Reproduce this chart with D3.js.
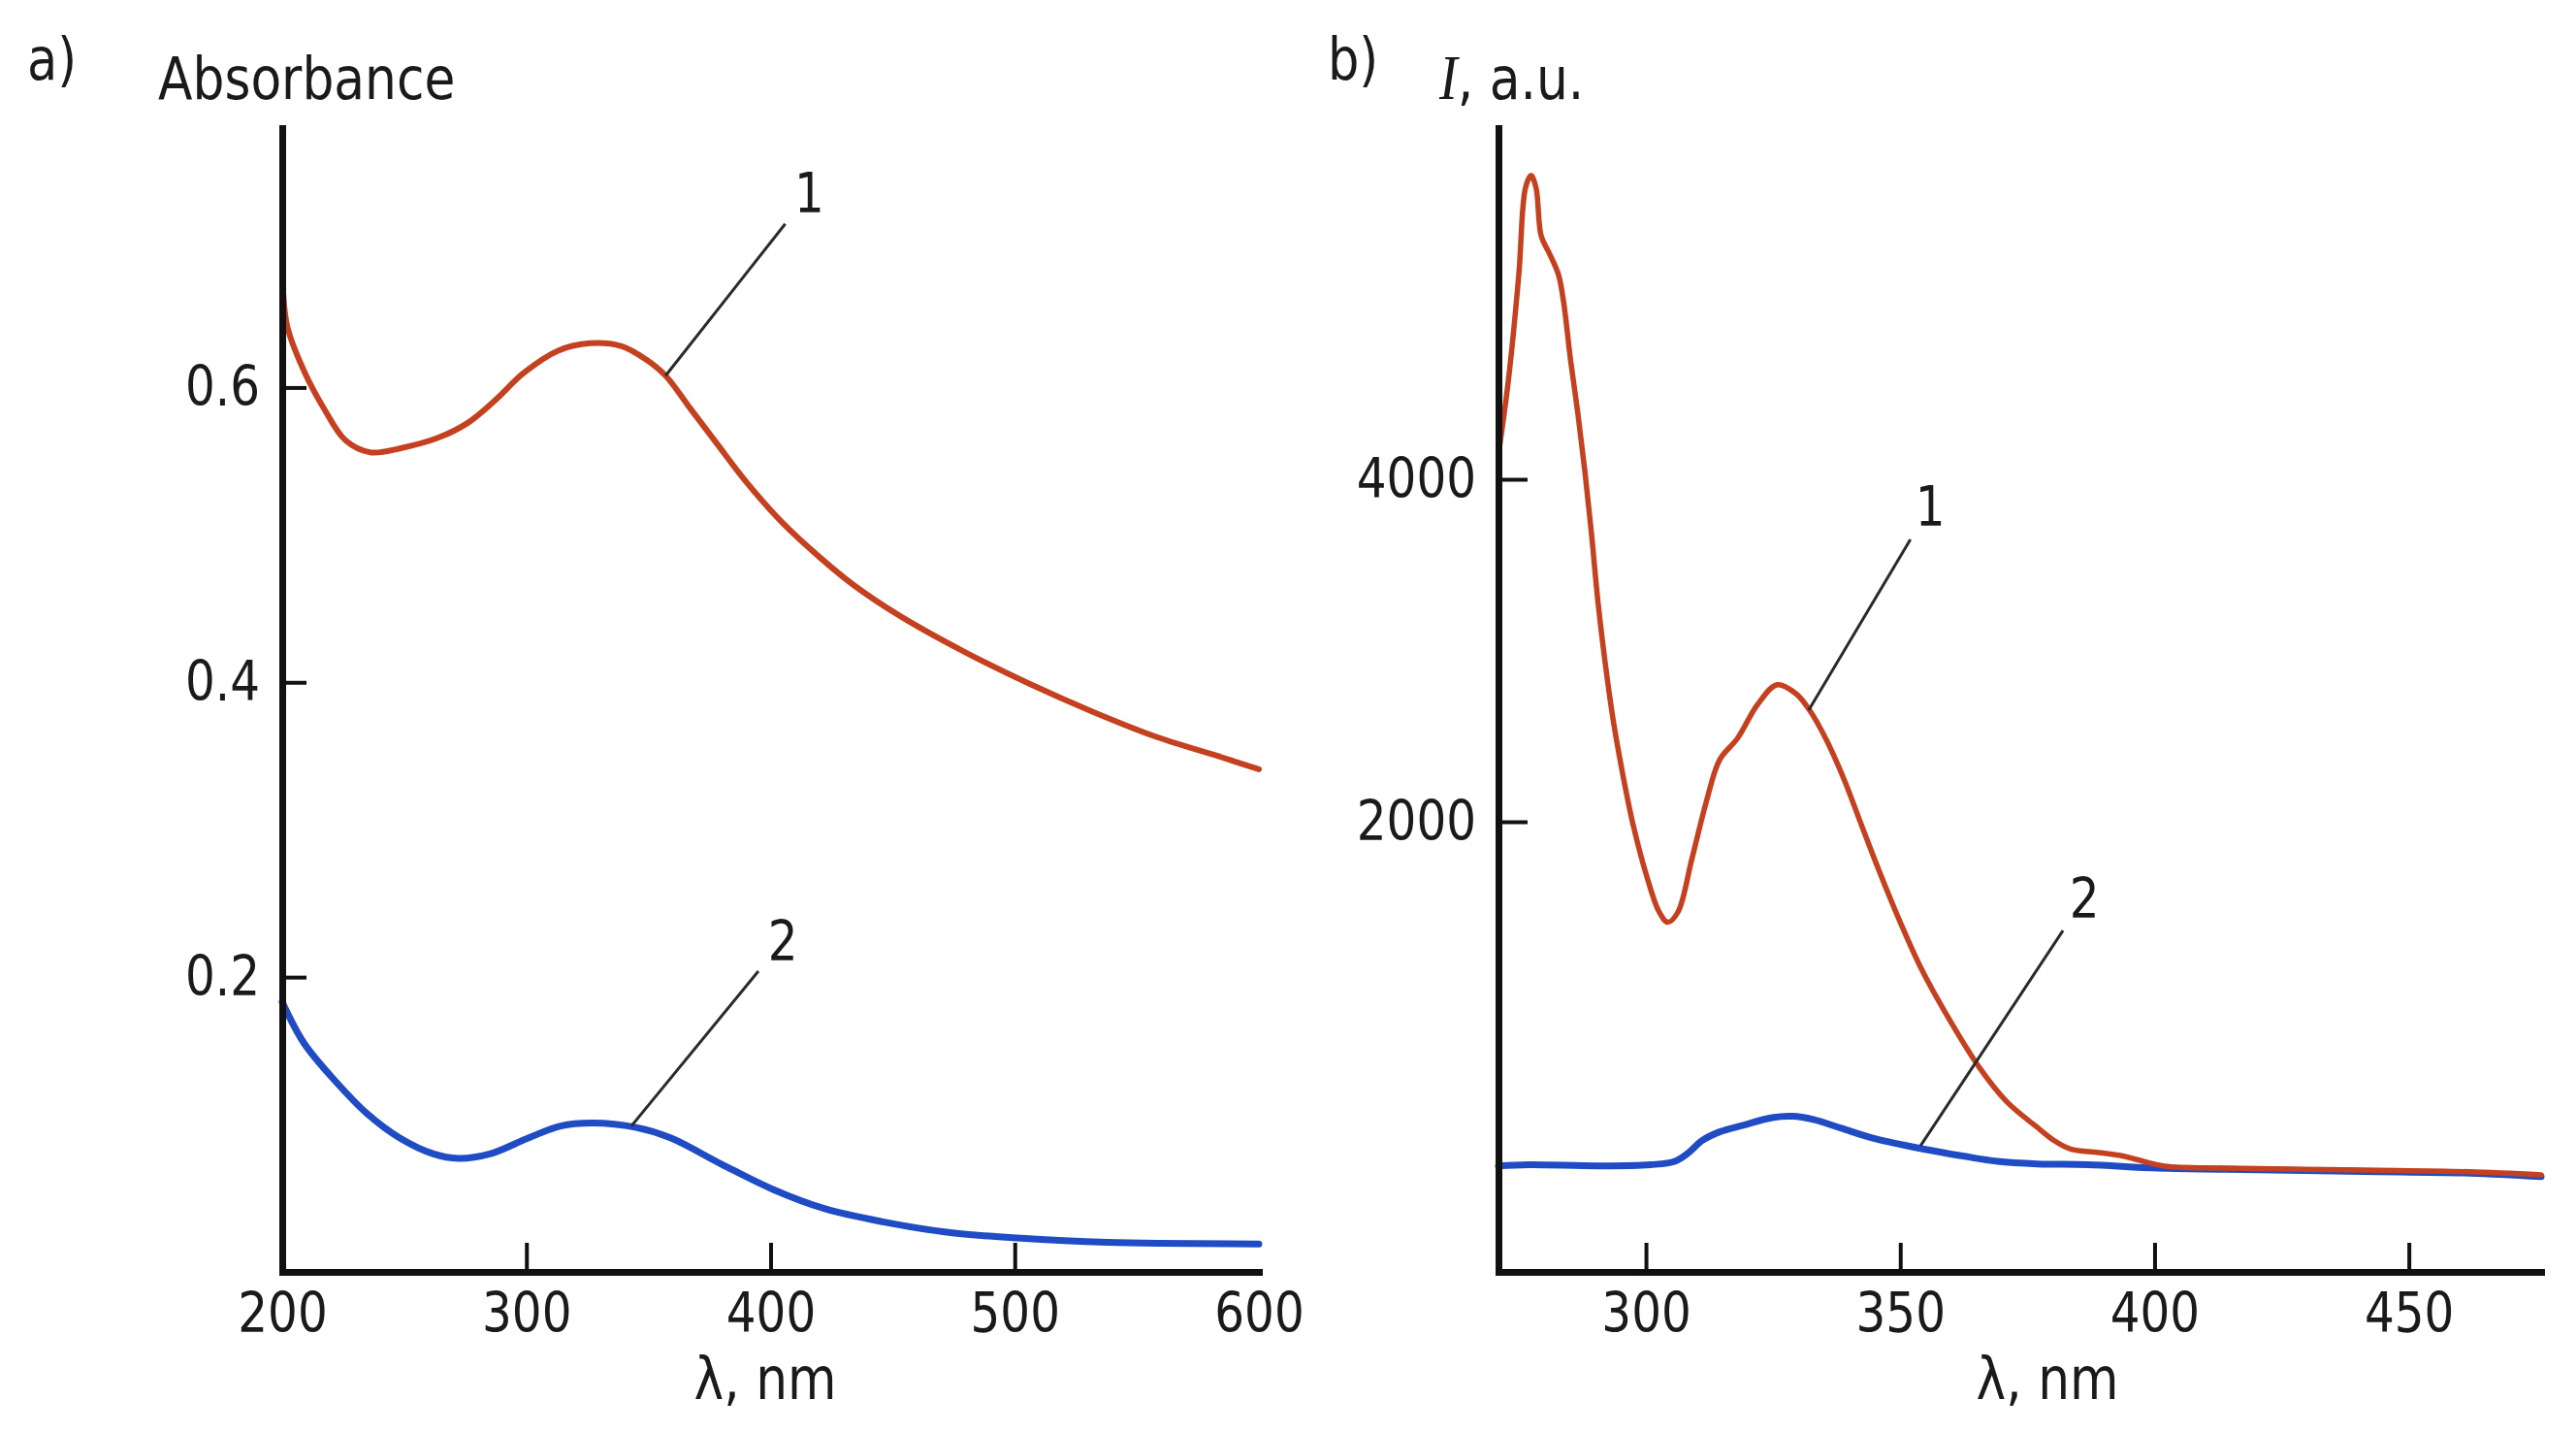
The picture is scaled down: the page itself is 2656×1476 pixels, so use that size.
<!DOCTYPE html>
<html>
<head>
<meta charset="utf-8">
<script src="https://cdn.jsdelivr.net/npm/d3@7/dist/d3.min.js"></script>
<style>
  body { margin: 0; background: #fff; }
  text { font-family: "DejaVu Sans", sans-serif; fill: #1a1a1a; }
</style>
</head>
<body>
<svg id="chart" width="2656" height="1476"></svg>
<script>
// a) absorbance spectra
const absWave1 = [200, 202, 209, 217, 226, 236, 249, 264, 276, 287, 299, 313, 326, 339, 349, 357, 367, 378, 390, 405, 420, 434, 453, 479, 506, 532, 558, 585, 600];
const absVal1 = [0.682, 0.642, 0.611, 0.586, 0.564, 0.556, 0.559, 0.566, 0.576, 0.591, 0.610, 0.625, 0.630, 0.628, 0.619, 0.608, 0.586, 0.562, 0.536, 0.508, 0.485, 0.466, 0.445, 0.421, 0.399, 0.380, 0.363, 0.349, 0.341];
const absWave2 = [200, 209, 222, 235, 248, 262, 272, 285, 301, 314, 327, 345, 359, 380, 401, 422, 446, 472, 501, 538, 600];
const absVal2 = [0.183, 0.155, 0.129, 0.107, 0.091, 0.080, 0.077, 0.080, 0.091, 0.099, 0.101, 0.098, 0.091, 0.073, 0.056, 0.043, 0.034, 0.027, 0.023, 0.020, 0.019];
const absTicksX = [200, 300, 400, 500, 600];
const absTicksY = [0.2, 0.4, 0.6];

// b) emission spectra
const plWave1 = [271, 273, 275, 276.3, 277.4, 278.4, 279.4, 281, 282.8, 283.8, 285.2, 286.6, 288, 289.3, 290.6, 292.4, 293.6, 295.4, 297.5, 300.2, 302.6, 304.3, 306.3, 309, 311.9, 314.5, 318, 322, 325.8, 329.5, 332.3, 335.7, 339, 342.4, 345.8, 350, 354, 358.8, 365.6, 371, 376.7, 380.2, 383.5, 389, 393.7, 397.8, 402, 414, 441.4, 461.8, 476];
const plVal1 = [4144, 4590, 5195, 5700, 5775, 5700, 5420, 5320, 5195, 5037, 4690, 4387, 4045, 3680, 3275, 2833, 2586, 2283, 1979, 1677, 1473, 1413, 1473, 1779, 2121, 2362, 2487, 2687, 2800, 2748, 2646, 2465, 2244, 1979, 1717, 1413, 1150, 889, 563, 363, 221, 139, 88, 68, 48, 17, -11, -23, -34, -44, -62];
const plWave2 = [271, 277, 290.6, 300.9, 305.7, 308.4, 311.1, 314.5, 319.3, 324.8, 328.8, 332.9, 338.4, 345.2, 354.7, 362.3, 369.1, 377, 386.9, 400.6, 414, 441, 462, 476];
const plVal2 = [-10, -3, -10, -3, 17, 68, 139, 189, 229, 272, 280, 261, 210, 148, 88, 48, 17, 2, -3, -23, -30, -42, -52, -72];
const plTicksX = [300, 350, 400, 450];
const plTicksY = [2000, 4000];

// curve labels: [wavelength on curve, value on curve, wavelength at line end, value at line end, text]
const absNotes = [[357, 0.608, 406, 0.711, '1'], [343, 0.099, 395, 0.204, '2']];
const plNotes = [[332, 2652, 352, 3649, '1'], [354, 108, 382, 1365, '2']];

const RED = '#c5401f';
const BLUE = '#1f4cc4';
const SX = 0.85; // the original type is narrower than DejaVu

const svg = d3.select('#chart');

function label(x, y, str, size, anchor) {
  return svg.append('text')
    .attr('transform', `translate(${x},${y}) scale(${SX},1)`)
    .attr('font-size', size)
    .attr('text-anchor', anchor || 'start')
    .text(str);
}

function styleAxis(g, fontSize) {
  g.attr('font-family', null).attr('font-size', null);
  g.select('.domain').attr('stroke', '#111').attr('stroke-width', 7).attr('stroke-linecap', 'square');
  g.selectAll('.tick line').attr('stroke', '#111').attr('stroke-width', 4);
  g.selectAll('.tick text')
    .attr('font-size', fontSize)
    .attr('fill', '#1a1a1a')
    .attr('transform', `scale(${SX},1)`);
}

function panel(opts) {
  const x = d3.scaleLinear().domain(opts.xDomain).range(opts.xRange);
  const y = d3.scaleLinear().domain(opts.yDomain).range([1311, 132]);

  const line = d3.line()
    .x(d => x(d[0]))
    .y(d => y(d[1]))
    .curve(d3.curveCatmullRom.alpha(0.5));

  opts.series.forEach(s => {
    svg.append('path')
      .datum(s.wave.map((w, i) => [w, s.val[i]]))
      .attr('fill', 'none')
      .attr('stroke', s.color)
      .attr('stroke-width', s.width)
      .attr('stroke-linejoin', 'round')
      .attr('stroke-linecap', 'round')
      .attr('d', line);
  });

  const gx = svg.append('g')
    .attr('transform', `translate(0,${y.range()[0]})`)
    .call(d3.axisBottom(x).tickValues(opts.xTicks).tickSize(-30).tickSizeOuter(0).tickPadding(22).tickFormat(d3.format('d')));
  styleAxis(gx, 57);
  gx.selectAll('.tick').filter(d => d === opts.xDomain[0] || d === opts.xDomain[1]).select('line').remove();

  const gy = svg.append('g')
    .attr('transform', `translate(${x.range()[0]},0)`)
    .call(d3.axisLeft(y).tickValues(opts.yTicks).tickSize(-opts.yTickLen).tickSizeOuter(0).tickPadding(27).tickFormat(opts.yFormat));
  styleAxis(gy, 57);

  opts.notes.forEach(n => {
    svg.append('line')
      .attr('x1', x(n[0])).attr('y1', y(n[1]))
      .attr('x2', x(n[2])).attr('y2', y(n[3]))
      .attr('stroke', '#2a2a2a')
      .attr('stroke-width', 3);
    const dx = x(n[2]) - x(n[0]), dy = y(n[3]) - y(n[1]);
    const len = Math.hypot(dx, dy);
    label(x(n[2]) + dx / len * 40, y(n[3]) + dy / len * 40 + 20, n[4], 57, 'middle');
  });

  return x;
}

panel({
  xDomain: [200, 600], xRange: [291, 1298],
  yDomain: [0, 0.776],
  xTicks: absTicksX, yTicks: absTicksY, yTickLen: 25,
  yFormat: d3.format('.1f'),
  series: [
    { wave: absWave1, val: absVal1, color: RED, width: 6 },
    { wave: absWave2, val: absVal2, color: BLUE, width: 7 }
  ],
  notes: absNotes
});

panel({
  xDomain: [271, 476], xRange: [1545, 2620],
  yDomain: [-629, 6051],
  xTicks: plTicksX, yTicks: plTicksY, yTickLen: 30,
  yFormat: d3.format('d'),
  series: [
    { wave: plWave2, val: plVal2, color: BLUE, width: 7 },
    { wave: plWave1, val: plVal1, color: RED, width: 5.5 }
  ],
  notes: plNotes
});

// titles
label(28, 82, 'a)', 60);
label(163, 102, 'Absorbance', 61);
label(789, 1442, 'λ, nm', 61, 'middle');

label(1369, 82, 'b)', 60);
const yb = label(1484, 102, '', 61);
yb.append('tspan').attr('font-family', '"Liberation Serif", serif').attr('font-style', 'italic').attr('font-size', 66).text('I');
yb.append('tspan').text(', a.u.');
label(2111, 1442, 'λ, nm', 61, 'middle');
</script>
</body>
</html>
